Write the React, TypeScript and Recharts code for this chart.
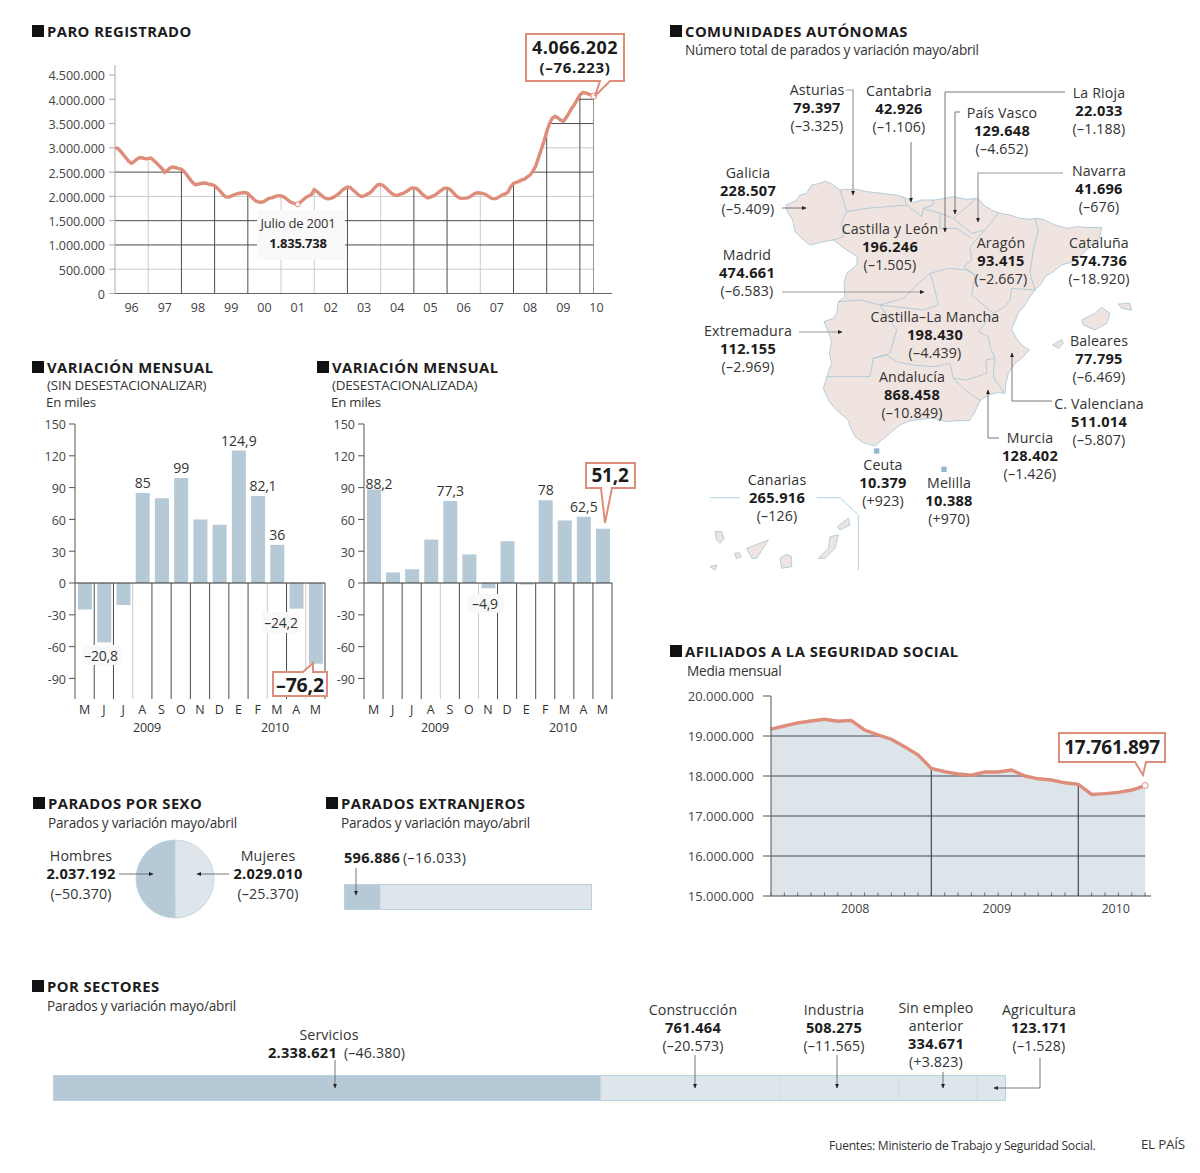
import React from "react";
import {
  Area,
  Bar,
  BarChart,
  CartesianGrid,
  Cell,
  ComposedChart,
  LabelList,
  Line,
  Pie,
  PieChart,
  ReferenceDot,
  ReferenceLine,
  XAxis,
  YAxis,
} from "recharts";

const FONT = '"Open Sans", sans-serif';
const INK = "#333";
const SALMON = "#dd8d79";
const BAR_DARK = "#b5cad6";
const BAR_LIGHT = "#dfe6eb";
const GRID_DARK = "#4d4d4d";
const GRID_LIGHT = "#cfc8c8";
const COAST = "#a5c6d6";

// Paro registrado, thousands, monthly from January 1996
const paro96 = [2993, 2990, 2930, 2860, 2790, 2720, 2685, 2720, 2770, 2800, 2790, 2775];
const paro97 = [2780, 2790, 2740, 2690, 2630, 2570, 2495, 2540, 2590, 2605, 2590, 2570];
const paro98 = [2560, 2510, 2440, 2360, 2290, 2240, 2250, 2265, 2275, 2270, 2250, 2240];
const paro99 = [2220, 2170, 2110, 2040, 1990, 1985, 2005, 2030, 2050, 2065, 2075, 2080];
const paro00 = [2060, 2000, 1950, 1900, 1885, 1880, 1900, 1940, 1965, 1975, 2000, 2015];
const paro01 = [2010, 1990, 1950, 1900, 1870, 1850, 1835.738, 1880, 1930, 1980, 2010, 2040];
const paro02 = [2137, 2100, 2050, 2000, 1965, 1950, 1960, 1985, 2020, 2060, 2120, 2165];
const paro03 = [2192, 2180, 2130, 2080, 2030, 2000, 2010, 2040, 2070, 2120, 2190, 2240];
const paro04 = [2245, 2220, 2170, 2110, 2060, 2025, 2020, 2040, 2060, 2090, 2130, 2170];
const paro05 = [2175, 2160, 2110, 2050, 2000, 1970, 1985, 2010, 2040, 2090, 2130, 2170];
const paro06 = [2170, 2150, 2090, 2030, 1980, 1960, 1965, 1965, 1985, 2020, 2060, 2075];
const paro07 = [2070, 2055, 2040, 2000, 1965, 1950, 1965, 2000, 2030, 2050, 2090, 2200];
const paro08 = [2265, 2290, 2310, 2340, 2355, 2400, 2440, 2520, 2620, 2790, 2960, 3130];
const paro09 = [3330, 3500, 3610, 3645, 3620, 3570, 3545, 3620, 3710, 3810, 3890, 3990];
const paro10 = [4090, 4137, 4130, 4110, 4090, 4066.202];
const paroYears = ["96", "97", "98", "99", "00", "01", "02", "03", "04", "05", "06", "07", "08", "09", "10"];
const paroTicks = [0, 500000, 1000000, 1500000, 2000000, 2500000, 3000000, 3500000, 4000000, 4500000];
const paroDarkH = [1000000, 1500000, 2500000, 3500000, 4000000];
const paroLightH = [500000, 2000000, 3000000];
const paroDarkV = [24, 36, 48, 84, 108, 120, 144, 156, 168, 173];
const paroLightV = [12, 60, 72, 96, 132];

const months = ["M", "J", "J", "A", "S", "O", "N", "D", "E", "F", "M", "A", "M"];
const bruta = [-25, -56, -20.8, 85, 80, 99, 60, 55, 124.9, 82.1, 36, -24.2, -76.2];
const brutaLabels = ["", "", "", "85", "", "99", "", "", "124,9", "", "36", "", ""];
const brutaLight = [2, 9, 11];
const desest = [88.2, 10, 13, 41, 77.3, 27, -4.9, 39.5, -1.5, 78, 59, 62.5, 51.2];
const desestLabels = ["", "", "", "", "77,3", "", "", "", "", "78", "", "62,5", ""];
const desestLight = [3, 5];
const varTicks = [150, 120, 90, 60, 30, 0, -30, -60, -90];

// Afiliados, millions, monthly from January 2008
const afiliados = [
  19.17, 19.25, 19.33, 19.375, 19.42, 19.37, 19.39, 19.15, 19.03, 18.92, 18.73, 18.53, 18.19, 18.11, 18.05,
  18.02, 18.1, 18.1, 18.15, 18.0, 17.93, 17.9, 17.83, 17.79, 17.54, 17.56, 17.59, 17.65, 17.761897,
];
const afiTicks = [15000000, 16000000, 17000000, 18000000, 19000000, 20000000];
const afiYears = ["2008", "2009", "2010"];
const afiYearTicks = [6.3, 16.9, 25.8];
const afiBreaks = [12, 23];

const sexNames = ["Hombres", "Mujeres"];
const sexValues = [2037192, 2029010];
const foreignNames = ["Extranjeros", "Resto"];
const foreignValues = [596886, 3469316];
const sectorNames = ["Servicios", "Construcción", "Industria", "Sin empleo anterior", "Agricultura"];
const sectorValues = [2338621, 761464, 508275, 334671, 123171];

const regionNames = [
  "Asturias", "Cantabria", "La Rioja", "País Vasco", "Navarra", "Galicia", "Castilla y León", "Aragón", "Cataluña", "Madrid",
  "Castilla–La Mancha", "Extremadura", "Baleares", "Andalucía", "C. Valenciana", "Murcia", "Ceuta", "Melilla", "Canarias",
];
const regionValues = [
  "79.397", "42.926", "22.033", "129.648", "41.696", "228.507", "196.246", "93.415", "574.736", "474.661",
  "198.430", "112.155", "77.795", "868.458", "511.014", "128.402", "10.379", "10.388", "265.916",
];
const regionChanges = [
  "(–3.325)", "(–1.106)", "(–1.188)", "(–4.652)", "(–676)", "(–5.409)", "(–1.505)", "(–2.667)", "(–18.920)", "(–6.583)",
  "(–4.439)", "(–2.969)", "(–6.469)", "(–10.849)", "(–5.807)", "(–1.426)", "(+923)", "(+970)", "(–126)",
];
const regionAnchors = [
  [817, 90], [899, 91], [1099, 93], [1002, 113], [1099, 171], [748, 173], [890, 229], [1001, 243], [1099, 243], [747, 255],
  [935, 317], [748, 331], [1099, 341], [912, 377], [1099, 404], [1030, 438], [883, 465], [949, 483], [777, 480],
];

// Map outline, drawn in a 3x space and scaled down
const mainland =
  "M258 165 L270 160 L290 150 L300 135 L320 130 L335 105 L360 100 L375 93 L395 102 L420 120 L440 118 L470 118 L500 125 L530 128 L560 132 L590 135 L620 145 L640 158 L665 150 L700 150 L720 148 L760 140 L800 148 L835 145 L850 165 L875 180 L900 190 L930 195 L960 205 L990 208 L1005 205 L1030 208 L1065 225 L1100 235 L1130 230 L1165 233 L1205 232 L1198 265 L1175 285 L1150 310 L1120 335 L1085 345 L1060 365 L1035 380 L1025 400 L1005 420 L990 440 L975 465 L955 490 L940 525 L935 540 L950 565 L965 585 L988 600 L965 625 L945 640 L925 670 L918 700 L915 730 L890 728 L865 735 L840 752 L825 785 L808 812 L770 812 L740 815 L700 805 L660 808 L630 812 L600 825 L570 850 L545 870 L525 888 L490 878 L465 860 L450 830 L445 810 L420 790 L400 770 L385 750 L370 715 L378 690 L385 665 L395 640 L388 610 L395 575 L385 545 L372 515 L400 505 L410 490 L415 455 L435 440 L432 400 L440 370 L470 345 L472 320 L440 300 L400 270 L370 275 L330 285 L305 265 L285 245 L278 210 L262 185 Z";
const borders = [
  "M420 120 L440 185 L425 215 L430 260 L400 270",
  "M440 185 L500 175 L560 170 L620 165 L665 200 L670 175 L700 165 L700 150",
  "M610 140 L620 165",
  "M670 175 L720 190 L760 205 L830 145",
  "M760 205 L815 250 L855 240 L895 190",
  "M720 190 L720 235 L770 235 L815 265",
  "M855 240 L810 290 L815 330 L790 350 L825 375 L815 435 L850 465 L880 490",
  "M1005 205 L1015 240 L1000 300 L990 370 L1005 420",
  "M1005 420 L935 415 L930 450 L915 470 L880 490 L860 515 L835 545 L865 560 L870 590 L885 625 L880 670 L885 690 L915 730",
  "M415 455 L480 450 L540 465 L610 445 L650 405 L690 370 L745 355 L800 360 L825 375",
  "M540 465 L670 480 L715 465 L700 400 L690 370",
  "M540 465 L590 540 L570 610 L520 625 L510 680 L440 680 L380 680",
  "M520 625 L560 615 L590 635 L640 645 L700 650 L750 640 L760 685 L800 690 L860 670 L858 630 L885 625",
  "M760 685 L790 715 L840 752",
];
const islands = [
  "M1145 510 L1185 490 L1205 472 L1230 490 L1220 520 L1185 540 L1150 525 Z",
  "M1255 462 L1290 460 L1295 480 L1265 475 Z",
  "M1058 585 L1085 568 L1090 580 L1075 595 Z",
  "M45 1145 L65 1145 L72 1165 L60 1180 L50 1170 Z",
  "M140 1195 L205 1170 L170 1225 L155 1225 Z",
  "M103 1210 L118 1208 L124 1220 L110 1226 Z",
  "M240 1225 L260 1213 L275 1220 L275 1250 L245 1255 Z",
  "M355 1225 L385 1195 L390 1160 L415 1155 L405 1195 L375 1225 Z",
  "M412 1130 L445 1105 L450 1125 L420 1140 Z",
  "M30 1250 L50 1245 L45 1260 Z",
];

const paroData = [
  ...[paro96, paro97, paro98, paro99, paro00, paro01, paro02, paro03, paro04, paro05, paro06, paro07, paro08, paro09, paro10]
    .flat()
    .map((v, idx) => ({ idx, value: v * 1000, mask: [v * 1000, 4706000] })),
  { idx: 173.01, mask: [0, 4706000] },
  { idx: 179.6, mask: [0, 4706000] },
];
const afiData = [
  ...afiliados.map((v, idx) => ({ idx, value: v * 1000000, mask: [v * 1000000, 20000000] })),
  { idx: 28.01, mask: [15000000, 20000000] },
  { idx: 28.44, mask: [15000000, 20000000] },
];
const dots = (v: number) => String(v).replace(/\B(?=(\d{3})+(?!\d))/g, ".");
const axisTick = { fontSize: 12.5, fill: "#444", fontFamily: FONT, dy: 1 };

function T({ x, y, children, size, bold = false, anchor = "middle", spacing }: any) {
  return (
    <text
      x={x}
      y={y - 1}
      fontSize={size ?? (bold ? 14.6 : 14.2)}
      fontWeight={bold ? 700 : 400}
      textAnchor={anchor}
      dominantBaseline="central"
      fontFamily={FONT}
      fill={bold ? "#1c1c1c" : INK}
      letterSpacing={spacing ?? (size ? -0.2 : bold ? 0.25 : 0.15)}
    >
      {children}
    </text>
  );
}

// several lines as one text; dy is the step to the next line
function Stack({ x, y, lines }: { x: number; y: number; lines: [string, boolean, number][] }) {
  let prev = 0;
  return (
    <text x={x} y={y - 1} textAnchor="middle" dominantBaseline="central" fontFamily={FONT}>
      {lines.map(([t, bold, dy], i) => {
        const node = (
          <tspan
            key={i}
            x={x}
            dy={prev}
            fontSize={bold ? 14.6 : 14.2}
            fontWeight={bold ? 700 : 400}
            fill={bold ? "#1c1c1c" : INK}
            letterSpacing={bold ? 0.25 : 0.15}
          >
            {t}
          </tspan>
        );
        prev = dy;
        return node;
      })}
    </text>
  );
}

function Title({ x, y, children }: any) {
  return (
    <g>
      <rect x={x - 15} y={y - 6} width={12} height={12} fill="#111" />
      <T x={x} y={y + 1} size={14.8} bold anchor="start" spacing={0.45}>
        {children}
      </T>
    </g>
  );
}

function Leader({ points, light = false }: { points: string; light?: boolean }) {
  return (
    <polyline
      points={points}
      fill="none"
      stroke={light ? "#9a9a9a" : "#666"}
      strokeWidth={light ? 1.2 : 0.9}
      markerEnd="url(#tip)"
    />
  );
}

function Callout({ d, children }: any) {
  return (
    <g>
      <path d={d} fill="#fff" stroke={SALMON} strokeWidth={2} />
      {children}
    </g>
  );
}

function Patch({ x, y, w, h }: any) {
  return <rect x={x} y={y} width={w} height={h} fill="#f9f9f9" />;
}

function VariationChart({ left, width, values, labels, light }: any) {
  const data = values.map((v: number, i: number) => ({ x: i + 0.5, v, label: labels[i] }));
  return (
    <div style={{ position: "absolute", left, top: 414 }}>
      <BarChart width={width} height={320} data={data} margin={{ top: 10, right: 10, bottom: 5, left: 0 }}>
        {months.map((_, i) => (
          <ReferenceLine
            key={i}
            segment={[{ x: i + 1, y: 0 }, { x: i + 1, y: -109.4 }]}
            stroke={light.includes(i) ? GRID_LIGHT : GRID_DARK}
            strokeWidth={1}
          />
        ))}
        <XAxis
          type="number"
          dataKey="x"
          domain={[0, 13]}
          ticks={months.map((_, i) => i + 0.5)}
          interval={0}
          tickFormatter={(v: number) => months[v - 0.5]}
          axisLine={false}
          tickLine={false}
          tickSize={0}
          tickMargin={5}
          height={30}
          tick={{ ...axisTick, fill: INK }}
        />
        <YAxis
          type="number"
          domain={[-109.4, 150]}
          ticks={varTicks}
          interval={0}
          width={45}
          tick={axisTick}
          tickSize={6}
          tickMargin={3}
          stroke="#555"
        />
        <ReferenceLine y={0} stroke="#333" strokeWidth={1.2} />
        <Bar dataKey="v" fill={BAR_DARK} barSize={14} isAnimationActive={false}>
          <LabelList dataKey="label" position="top" fontSize={14} fill={INK} fontFamily={FONT} />
        </Bar>
      </BarChart>
    </div>
  );
}

function ShareBar({ left, top, width, names, values }: any) {
  const row = Object.fromEntries(names.map((n: string, i: number) => [n, values[i]]));
  const total = values.reduce((a: number, b: number) => a + b, 0);
  return (
    <div style={{ position: "absolute", left, top }}>
      <BarChart
        layout="vertical"
        width={width}
        height={26}
        data={[{ name: "total", ...row }]}
        margin={{ top: 0, right: 0, bottom: 0, left: 0 }}
        barCategoryGap={0}
      >
        <XAxis type="number" domain={[0, total]} hide />
        <YAxis type="category" dataKey="name" hide />
        {names.map((n: string, i: number) => (
          <Bar
            key={n}
            dataKey={n}
            stackId="a"
            fill={i === 0 ? BAR_DARK : BAR_LIGHT}
            stroke="#cfdde5"
            strokeWidth={1}
            isAnimationActive={false}
          />
        ))}
      </BarChart>
    </div>
  );
}

export default function App() {
  return (
    <div style={{ position: "absolute", left: 0, top: 0, width: 1200, height: 1173, background: "#fff", overflow: "hidden" }}>
      {/* Paro registrado */}
      <div style={{ position: "absolute", left: 20, top: 55 }}>
        <ComposedChart width={600} height={275} data={paroData} margin={{ top: 10, right: 8, bottom: 6.5, left: 0 }}>
          <CartesianGrid stroke={GRID_LIGHT} horizontalValues={paroLightH} verticalValues={paroLightV} strokeWidth={1} />
          <CartesianGrid stroke={GRID_DARK} horizontalValues={paroDarkH} verticalValues={paroDarkV} strokeWidth={1} />
          <XAxis
            type="number"
            dataKey="idx"
            domain={[0, 179.6]}
            ticks={paroYears.map((_, i) => i * 12 + 6)}
            interval={0}
            tickFormatter={(v: number) => paroYears[(v - 6) / 12]}
            tickLine={false}
            tickSize={0}
            tickMargin={9}
            height={30}
            stroke="#666"
            tick={axisTick}
          />
          <YAxis
            type="number"
            domain={[0, 4706000]}
            ticks={paroTicks}
            interval={0}
            width={95}
            tickFormatter={dots}
            tick={axisTick}
            tickSize={6}
            tickMargin={4}
            stroke="#aaa"
          />
          <Area dataKey="mask" fill="#fff" fillOpacity={1} stroke="none" isAnimationActive={false} dot={false} activeDot={false} />
          <Line dataKey="value" stroke={SALMON} strokeWidth={3.4} dot={false} isAnimationActive={false} />
          <ReferenceDot x={66} y={1835738} r={2.5} fill="#fff" stroke={SALMON} />
          <ReferenceDot x={173} y={4066202} r={3} fill="#fff" stroke={SALMON} />
        </ComposedChart>
      </div>

      <VariationChart left={30} width={305} values={bruta} labels={brutaLabels} light={brutaLight} />
      <VariationChart left={319} width={303} values={desest} labels={desestLabels} light={desestLight} />

      {/* Afiliados */}
      <div style={{ position: "absolute", left: 660, top: 686 }}>
        <ComposedChart width={500} height={240} data={afiData} margin={{ top: 10, right: 9, bottom: 5, left: 0 }}>
          <CartesianGrid stroke="#000" horizontalValues={[16000000, 17000000, 18000000, 19000000]} verticalValues={afiBreaks} strokeWidth={1.2} />
          <XAxis
            type="number"
            dataKey="idx"
            domain={[0, 28.44]}
            ticks={afiYearTicks}
            interval={0}
            tickFormatter={(v: number) => afiYears[afiYearTicks.indexOf(v)]}
            tickLine={false}
            tickSize={0}
            tickMargin={7}
            height={25}
            stroke="#444"
            tick={axisTick}
          />
          <YAxis
            type="number"
            domain={[15000000, 20000000]}
            ticks={afiTicks}
            interval={0}
            width={111}
            tickFormatter={dots}
            tick={{ ...axisTick, fontSize: 13, dy: 0 }}
            tickSize={8}
            tickMargin={9}
            stroke="#555"
          />
          <Area dataKey="mask" fill="#fff" fillOpacity={1} stroke="none" isAnimationActive={false} dot={false} activeDot={false} />
          <Area dataKey="value" fill="#a9bfcc" fillOpacity={0.4} stroke="none" isAnimationActive={false} dot={false} activeDot={false} />
          {afiliados.map((_, i) => (
            <ReferenceLine key={i} segment={[{ x: i, y: 15000000 }, { x: i, y: 15090000 }]} stroke="#555" strokeWidth={0.8} />
          ))}
          <Line dataKey="value" stroke={SALMON} strokeWidth={3.4} dot={false} isAnimationActive={false} />
          <ReferenceDot x={28} y={17761897} r={3} fill="#fff" stroke={SALMON} />
        </ComposedChart>
      </div>

      {/* Por sexo */}
      <div style={{ position: "absolute", left: 135, top: 839 }}>
        <PieChart width={80} height={80} margin={{ top: 0, right: 0, bottom: 0, left: 0 }}>
          <Pie
            data={sexNames.map((name, i) => ({ name, value: sexValues[i] }))}
            dataKey="value"
            cx={40}
            cy={40}
            outerRadius={39}
            startAngle={90}
            endAngle={450}
            stroke="#b9d2de"
            strokeWidth={0.8}
            isAnimationActive={false}
          >
            {sexNames.map((n, i) => (
              <Cell key={n} fill={i === 0 ? BAR_DARK : BAR_LIGHT} />
            ))}
          </Pie>
        </PieChart>
      </div>

      <ShareBar left={344} top={884} width={248} names={foreignNames} values={foreignValues} />
      <ShareBar left={53} top={1075} width={953} names={sectorNames} values={sectorValues} />

      {/* Titles, leaders, map and callouts */}
      <svg width={1200} height={1173} style={{ position: "absolute", left: 0, top: 0, pointerEvents: "none" }}>
        <defs>
          <marker id="tip" markerWidth={5} markerHeight={5} refX={4} refY={2.5} orient="auto" markerUnits="userSpaceOnUse">
            <path d="M0 0.6 L4.5 2.5 L0 4.4 Z" fill="#222" />
          </marker>
        </defs>

        <g transform="translate(700 150) scale(0.33333)">
          <path d={mainland} fill="#f0e4e0" stroke={COAST} strokeWidth={2.5} strokeLinejoin="round" />
          {borders.map((d) => (
            <path key={d} d={d} fill="none" stroke={COAST} strokeWidth={2.5} strokeLinejoin="round" />
          ))}
          {islands.map((d) => (
            <path key={d} d={d} fill="#f0e4e0" stroke={COAST} strokeWidth={2.5} strokeLinejoin="round" />
          ))}
          <rect x={522} y={895} width={16} height={16} fill="#8fb8cc" />
          <rect x={724} y={950} width={16} height={16} fill="#8fb8cc" />
          <path d="M30 1043 H120 M350 1043 H420 L475 1095 V1260" fill="none" stroke={COAST} strokeWidth={2.5} />
        </g>

        <rect x={344.5} y={884.5} width={247} height={25} fill="none" stroke="#b9d2de" strokeWidth={1} />
        <rect x={53.5} y={1075.5} width={952} height={25} fill="none" stroke="#b9d2de" strokeWidth={1} />

        <Title x={47} y={31}>PARO REGISTRADO</Title>
        <Title x={685} y={31}>COMUNIDADES AUTÓNOMAS</Title>
        <T x={685} y={50} size={13.6} anchor="start">Número total de parados y variación mayo/abril</T>
        <Title x={47} y={367}>VARIACIÓN MENSUAL</Title>
        <T x={47} y={386} size={13.4} anchor="start">(SIN DESESTACIONALIZAR)</T>
        <T x={46} y={403} size={13.2} anchor="start">En miles</T>
        <Title x={332} y={367}>VARIACIÓN MENSUAL</Title>
        <T x={332} y={386} size={13.4} anchor="start">(DESESTACIONALIZADA)</T>
        <T x={331} y={403} size={13.2} anchor="start">En miles</T>
        <Title x={685} y={651}>AFILIADOS A LA SEGURIDAD SOCIAL</Title>
        <T x={687} y={671} size={13.6} anchor="start">Media mensual</T>
        <Title x={48} y={803}>PARADOS POR SEXO</Title>
        <T x={48} y={823} size={13.6} anchor="start">Parados y variación mayo/abril</T>
        <Title x={341} y={803}>PARADOS EXTRANJEROS</Title>
        <T x={341} y={823} size={13.6} anchor="start">Parados y variación mayo/abril</T>
        <Title x={47} y={986}>POR SECTORES</Title>
        <T x={47} y={1006} size={13.6} anchor="start">Parados y variación mayo/abril</T>

        {/* Paro notes */}
        <rect x={257} y={210} width={88} height={50} fill="#f9f9f9" />
        <T x={298} y={224} size={13}>Julio de 2001</T>
        <T x={298} y={244} size={13} bold>1.835.738</T>
        <Callout d="M526 34 H624 V81 H610 L595 96 L600 81 H526 Z">
          <text x={575} y={47} textAnchor="middle" dominantBaseline="central" fontFamily={FONT} fontWeight={700} fill="#1c1c1c">
            <tspan x={575} fontSize={18} letterSpacing={0.4}>4.066.202</tspan>
            <tspan x={575} dy={20} fontSize={15} letterSpacing={0.7}>(–76.223)</tspan>
          </text>
        </Callout>

        {/* Bar chart notes */}
        {[[147, "2009"], [275, "2010"], [435, "2009"], [563, "2010"]].map(([x, t]) => (
          <T key={String(x)} x={x} y={728} size={12.5}>{t}</T>
        ))}
        <T x={263} y={486} size={14}>82,1</T>
        <Patch x={82} y={645} w={39} h={20} />
        <T x={101} y={656} size={14}>–20,8</T>
        <Patch x={262} y={612} w={38} h={21} />
        <T x={281} y={623} size={14}>–24,2</T>
        <Callout d="M273 672 H303 L313 663 V672 H327 V696 H273 Z">
          <T x={300} y={685} size={19.5} bold>–76,2</T>
        </Callout>
        <T x={379} y={484} size={14}>88,2</T>
        <Patch x={468} y={594} w={36} h={19} />
        <T x={485} y={604} size={14}>–4,9</T>
        <Callout d="M586 463 H635 V488 H612 L605 523 L601 488 H586 Z">
          <T x={610} y={476} size={19} bold>51,2</T>
        </Callout>
        <Callout d="M1059 733 H1165 V762 H1146 L1143 775 L1135 762 H1059 Z">
          <T x={1112} y={748} size={19} bold>17.761.897</T>
        </Callout>

        {/* Map labels */}
        <Leader points="846,90 853,90 853,195" light />
        <Leader points="911,142 911,202" />
        <Leader points="1065,92 945,92 945,232" />
        <Leader points="960,112 955,112 955,214" />
        <Leader points="1063,173 978,173 978,222" light />
        <Leader points="782,208 806,208" />
        <Leader points="782,292 924,292" light />
        <Leader points="799,332 842,332" light />
        <Leader points="1052,401 1012,401 1012,353" />
        <Leader points="999,438 988,438 988,390" />
        {regionNames.map((name, i) => {
          const [x, y] = regionAnchors[i];
          return (
            <Stack
              key={name}
              x={x}
              y={y}
              lines={[
                [name, false, 18],
                [regionValues[i], true, 18],
                [regionChanges[i], false, 0],
              ]}
            />
          );
        })}

        {/* Sexo */}
        <Stack x={81} y={856} lines={[["Hombres", false, 18], ["2.037.192", true, 20], ["(–50.370)", false, 0]]} />
        <Stack x={268} y={856} lines={[["Mujeres", false, 18], ["2.029.010", true, 20], ["(–25.370)", false, 0]]} />
        <Leader points="119,874 153,874" />
        <Leader points="229,874 197,874" />

        {/* Extranjeros */}
        <T x={344} y={858} bold anchor="start">596.886</T>
        <T x={403} y={858} anchor="start" spacing={0.4}>(–16.033)</T>
        <Leader points="356,868 356,895" />

        {/* Sectores */}
        <T x={329} y={1035}>Servicios</T>
        <T x={268} y={1053} bold anchor="start">2.338.621</T>
        <T x={344} y={1053} anchor="start">(–46.380)</T>
        <Leader points="335,1060 335,1088" />
        <Stack x={693} y={1010} lines={[["Construcción", false, 18], ["761.464", true, 18], ["(–20.573)", false, 0]]} />
        <Leader points="695,1055 695,1088" />
        <Stack x={834} y={1010} lines={[["Industria", false, 18], ["508.275", true, 18], ["(–11.565)", false, 0]]} />
        <Leader points="837,1055 837,1088" />
        <Stack
          x={936}
          y={1008}
          lines={[["Sin empleo", false, 18], ["anterior", false, 18], ["334.671", true, 18], ["(+3.823)", false, 0]]}
        />
        <Leader points="943,1072 943,1088" />
        <Stack x={1039} y={1010} lines={[["Agricultura", false, 18], ["123.171", true, 18], ["(–1.528)", false, 0]]} />
        <Leader points="1040,1058 1040,1088 994,1088" />

        <T x={829} y={1146} size={12.1} anchor="start" spacing={-0.25}>Fuentes: Ministerio de Trabajo y Seguridad Social.</T>
        <T x={1185} y={1145} size={13.4} anchor="end">EL PAÍS</T>
      </svg>
    </div>
  );
}
